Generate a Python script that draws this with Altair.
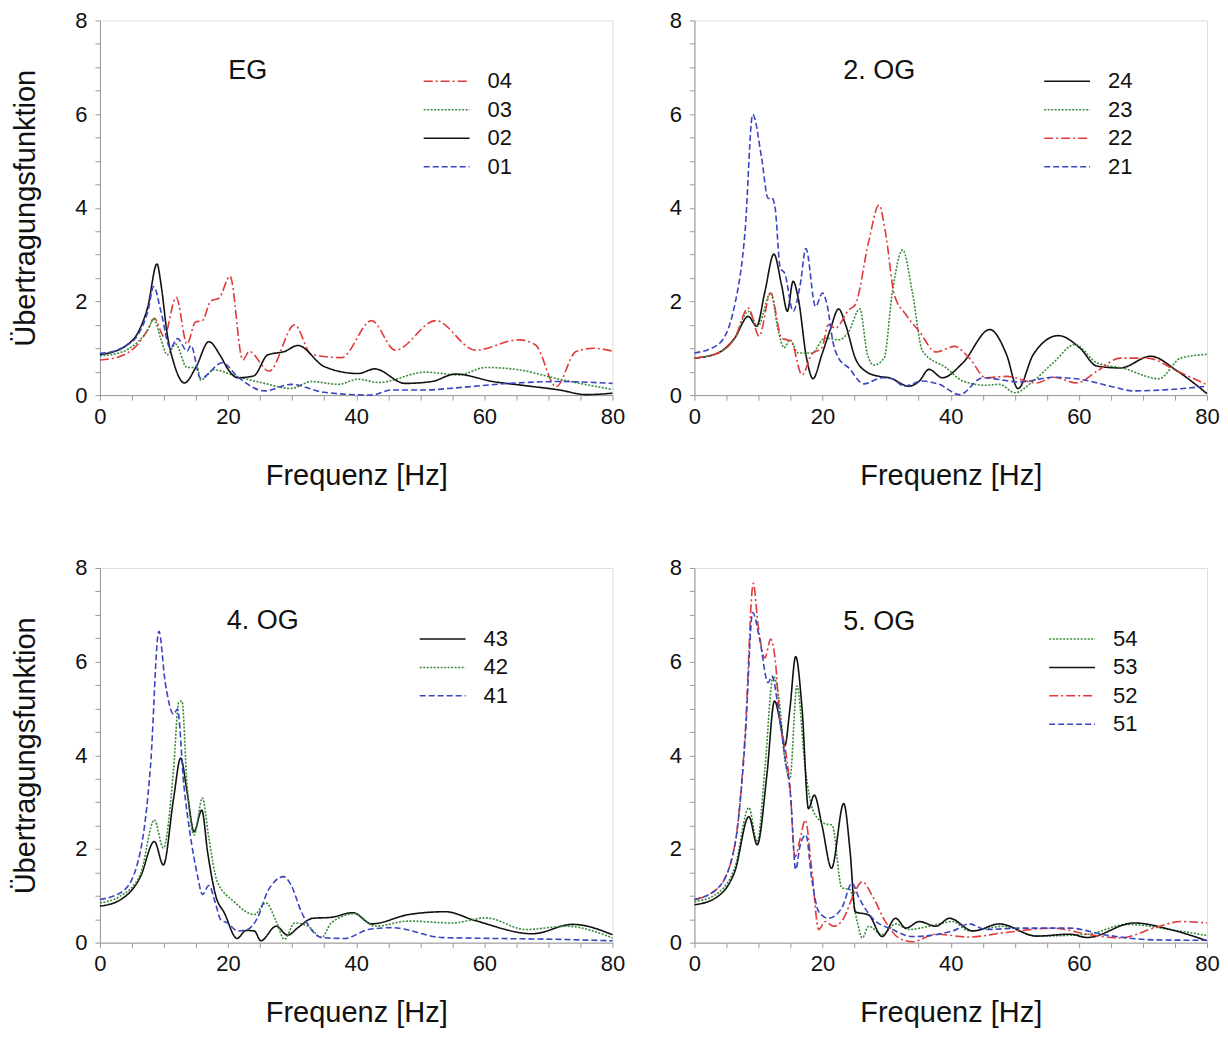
import altair as alt
import pandas as pd

FONT = "Liberation Sans"

# ---------------- EG ----------------
eg04_f = [0, 3, 6, 7.5, 8.5, 10, 11.9, 13.6, 14.9, 16, 17.3, 18.6, 20.3, 22.3, 23.3, 26.4, 30.4, 33, 37.7, 42.4, 46.1, 52.4, 58.6, 65.4, 68, 71.2, 74.3, 77, 80]
eg04_v = [0.75, 0.82, 1.1, 1.4, 1.64, 1.25, 2.09, 1.09, 1.56, 1.59, 2.01, 2.07, 2.54, 0.75, 0.93, 0.51, 1.5, 0.87, 0.8, 1.59, 0.96, 1.59, 0.96, 1.18, 1.07, 0.18, 0.93, 1.0, 0.94]
eg03_f = [0, 3, 6, 7.5, 8.4, 9.5, 10.5, 11.8, 13.6, 15.2, 15.7, 17.8, 21.5, 25.7, 29.8, 33, 37.2, 40.3, 43.5, 50.8, 56, 60.2, 65.4, 71.7, 80]
eg03_v = [0.84, 0.9, 1.15, 1.4, 1.63, 1.2, 0.86, 1.09, 0.59, 0.59, 0.32, 0.54, 0.39, 0.25, 0.14, 0.29, 0.23, 0.34, 0.27, 0.49, 0.43, 0.59, 0.54, 0.34, 0.12]
eg02_f = [0, 2, 4, 6, 7.5, 8.9, 9.6, 10.5, 11.5, 13.2, 15, 17, 18.8, 20, 21.5, 24, 26.2, 28.8, 30.9, 35, 40.3, 42.9, 47.6, 51.8, 55.5, 61.3, 66.5, 71.7, 75.9, 80]
eg02_v = [0.87, 0.92, 1.05, 1.35, 1.9, 2.8, 2.3, 1.3, 0.7, 0.26, 0.6, 1.14, 0.84, 0.55, 0.37, 0.41, 0.86, 0.93, 1.06, 0.61, 0.46, 0.56, 0.25, 0.29, 0.45, 0.29, 0.2, 0.11, 0.01, 0.04]
eg01_f = [0, 2, 4, 6, 7.5, 8.4, 9.5, 11, 12.1, 13.6, 14.2, 15.7, 19.1, 21.5, 25.7, 29.8, 35, 42.4, 45.5, 50.8, 56, 63.9, 71.7, 80]
eg01_v = [0.89, 0.93, 1.05, 1.3, 1.8, 2.32, 1.8, 1.0, 1.21, 0.94, 1.06, 0.36, 0.69, 0.39, 0.09, 0.23, 0.06, 0.0, 0.11, 0.11, 0.16, 0.25, 0.29, 0.25]

# ---------------- 2.OG ----------------
og2_24_f = [0, 3.7, 6.3, 8.4, 9.7, 11, 12.4, 13.6, 14.5, 15.4, 16.2, 17.5, 18.5, 19.9, 21.2, 22.5, 23.6, 25.1, 26.7, 28.8, 30.4, 33.5, 35.1, 36.6, 38.7, 41.9, 46.1, 48.7, 50.5, 52.9, 56.8, 60.2, 62.8, 66.5, 71.2, 75.4, 80]
og2_24_v = [0.79, 0.9, 1.22, 1.68, 1.47, 2.21, 3.01, 2.35, 1.79, 2.43, 2.07, 0.79, 0.35, 0.87, 1.4, 1.84, 1.5, 0.79, 0.51, 0.4, 0.37, 0.19, 0.3, 0.55, 0.37, 0.69, 1.4, 0.87, 0.14, 0.87, 1.27, 1.0, 0.62, 0.58, 0.83, 0.51, 0.03]
og2_23_f = [0, 3.7, 6.3, 8.4, 9.9, 11.9, 13.1, 14, 14.9, 16.2, 18.3, 20.4, 22.5, 24.1, 25.8, 27, 28, 29.6, 30.9, 32.5, 34, 35.6, 39.3, 41.9, 45.5, 47.6, 50, 52.9, 56, 59.4, 62.8, 67, 72.5, 75.9, 80]
og2_23_v = [0.79, 0.9, 1.22, 1.79, 1.47, 2.18, 1.36, 1.01, 1.18, 0.9, 0.9, 1.22, 1.18, 1.36, 1.84, 0.87, 0.64, 0.79, 2.21, 3.1, 2.21, 0.94, 0.58, 0.3, 0.21, 0.23, 0.05, 0.3, 0.69, 1.08, 0.69, 0.57, 0.35, 0.79, 0.87]
og2_22_f = [0, 3.7, 6.3, 8.4, 10.1, 11.9, 13.6, 15.1, 16.8, 18.3, 19.9, 20.9, 22, 24.1, 25.1, 27.2, 28.8, 29.8, 31.2, 33, 35.1, 37.7, 40.6, 42.9, 45.5, 48.7, 53.4, 56, 59.7, 62.8, 66.5, 70.7, 75.4, 80]
og2_22_v = [0.79, 0.9, 1.22, 1.86, 1.26, 2.18, 1.22, 1.15, 0.43, 0.87, 1.01, 1.5, 1.43, 1.82, 1.93, 3.28, 4.06, 3.49, 2.14, 1.72, 1.36, 0.92, 1.04, 0.79, 0.37, 0.4, 0.26, 0.38, 0.26, 0.51, 0.79, 0.79, 0.51, 0.22]
og2_21_f = [0, 3.7, 6.3, 7.9, 9.1, 10.5, 11.5, 12.1, 12.6, 13.4, 14.1, 15.4, 16.5, 17.4, 18.9, 20, 20.7, 21.7, 22.5, 24.1, 26.4, 29.3, 30.9, 32.7, 35.6, 38.2, 41.4, 45, 50.8, 56, 61.3, 64.9, 68.6, 74.3, 80]
og2_21_v = [0.9, 1.08, 1.93, 3.49, 5.99, 5.05, 4.2, 4.21, 3.99, 2.71, 2.6, 1.79, 2.35, 3.13, 1.89, 2.18, 1.93, 1.08, 0.79, 0.58, 0.24, 0.37, 0.35, 0.19, 0.3, 0.23, 0.01, 0.37, 0.28, 0.38, 0.31, 0.19, 0.09, 0.12, 0.19]

# ---------------- 4.OG ----------------
og4_43_f = [0, 3, 6.3, 8.5, 9.9, 11.5, 12.6, 13.6, 14.7, 15.9, 16.8, 18.1, 19.4, 21.4, 22.8, 24.1, 25.1, 27.5, 29.3, 30.9, 33.2, 36.1, 39.5, 42.4, 48.2, 53.9, 58.6, 67.5, 73.8, 80]
og4_43_v = [0.78, 0.9, 1.4, 2.16, 1.66, 3.08, 3.94, 3.22, 2.37, 2.83, 1.94, 0.99, 0.64, 0.09, 0.26, 0.25, 0.04, 0.35, 0.16, 0.32, 0.52, 0.54, 0.64, 0.4, 0.6, 0.66, 0.47, 0.19, 0.39, 0.17]
og4_42_f = [0, 3, 6.3, 8.5, 9.9, 11.5, 12.3, 12.8, 13.6, 14.7, 16, 17, 18.3, 20.9, 24.1, 25.9, 27.5, 28.8, 30.4, 32.5, 34.6, 36.1, 39.8, 42.9, 48.2, 55, 60.2, 66.5, 72.8, 80]
og4_42_v = [0.85, 0.98, 1.45, 2.62, 2.02, 3.71, 5.13, 5.16, 3.36, 2.3, 3.09, 2.23, 1.31, 0.88, 0.6, 0.85, 0.46, 0.07, 0.42, 0.35, 0.11, 0.42, 0.62, 0.35, 0.46, 0.42, 0.53, 0.28, 0.35, 0.1]
og4_41_f = [0, 3.7, 6.3, 7.9, 9.2, 10.2, 11.5, 12.1, 13.1, 14.1, 15.2, 16, 17, 18.1, 18.8, 19.9, 21.5, 23, 24.6, 26.2, 28.7, 29.8, 31.4, 34.6, 38.2, 41.9, 45.5, 53.4, 61.3, 71.7, 80]
og4_41_v = [0.92, 1.11, 1.94, 3.78, 6.65, 5.55, 4.88, 4.99, 3.36, 2.3, 1.45, 1.03, 1.22, 0.81, 0.5, 0.42, 0.25, 0.28, 0.53, 1.1, 1.41, 1.24, 0.67, 0.11, 0.09, 0.28, 0.32, 0.11, 0.09, 0.07, 0.04]

# ---------------- 5.OG ----------------
og5_54_f = [0, 3, 6.3, 8.5, 9.8, 11, 12.3, 13.2, 14.1, 14.9, 16, 17.3, 18.6, 20.4, 21.5, 23, 24.3, 25.4, 26.2, 27.2, 29.3, 31.4, 33.5, 36.6, 40.3, 42.9, 48.2, 53.4, 61.3, 67.5, 74.3, 80]
og5_54_v = [0.88, 1.0, 1.6, 2.88, 2.15, 3.71, 5.69, 5.2, 3.92, 3.5, 5.48, 3.71, 2.79, 2.54, 2.51, 1.17, 1.13, 0.45, 0.1, 0.35, 0.17, 0.4, 0.28, 0.35, 0.45, 0.25, 0.35, 0.14, 0.18, 0.39, 0.28, 0.15]
og5_53_f = [0, 3, 6.3, 8.5, 9.8, 11.3, 12.5, 13.4, 14.1, 14.9, 15.8, 16.8, 17.8, 18.7, 19.9, 21.4, 23.3, 24.3, 25.1, 27.2, 29.3, 31.4, 33, 35.1, 37.7, 39.8, 43.5, 47.6, 53.4, 58.6, 61.3, 68.6, 74.3, 80]
og5_53_v = [0.81, 0.93, 1.52, 2.69, 2.09, 3.57, 5.16, 4.7, 4.2, 4.99, 6.11, 4.99, 2.86, 3.15, 2.51, 1.59, 2.97, 1.94, 0.66, 0.59, 0.13, 0.52, 0.31, 0.45, 0.35, 0.52, 0.25, 0.4, 0.14, 0.18, 0.11, 0.42, 0.28, 0.04]
og5_52_f = [0, 3.7, 6.3, 7.9, 9.2, 9.9, 11, 11.9, 12.6, 13.4, 14.1, 14.9, 15.7, 16.5, 17.3, 18.3, 19.4, 20.4, 21.7, 23.3, 24.6, 26.2, 27.8, 29.8, 31.9, 34, 37.7, 42.9, 48.2, 56, 61.3, 66.5, 71.7, 75.9, 80]
og5_52_v = [0.92, 1.17, 2.08, 4.42, 7.67, 6.82, 6.08, 6.48, 6.05, 4.67, 4.2, 3.35, 1.83, 2.22, 2.62, 1.58, 0.28, 0.45, 0.35, 0.52, 0.95, 1.3, 0.99, 0.45, 0.1, 0.02, 0.18, 0.12, 0.21, 0.31, 0.18, 0.1, 0.31, 0.45, 0.42]
og5_51_f = [0, 3.7, 6.3, 7.9, 9.1, 10.2, 11.5, 12.1, 13.1, 14.1, 15, 15.8, 16.5, 17.4, 18.3, 19.4, 20.9, 23, 24.6, 25.7, 27.8, 30.9, 34, 40.3, 42.9, 45.5, 50.8, 58.6, 63.9, 71.7, 80]
og5_51_v = [0.92, 1.17, 2.08, 4.3, 7.05, 6.46, 5.55, 5.69, 4.99, 3.99, 3.14, 1.56, 2.08, 2.3, 1.37, 0.66, 0.52, 0.74, 1.27, 0.95, 0.52, 0.28, 0.13, 0.25, 0.4, 0.28, 0.31, 0.31, 0.17, 0.06, 0.05]

RED, GREEN, BLACK, BLUE = "#e23a3a", "#3a8a3a", "#111111", "#3a45c0"
D_RED, D_GREEN, D_BLACK, D_BLUE = [9, 3, 2, 3], [2, 1.5], [1, 0], [6, 3]

W, H = 513, 375


def make_df(series):
    rows = []
    for name, fs, vs in series:
        for f, v in zip(fs, vs):
            rows.append({"f": f, "v": v, "s": name})
    return pd.DataFrame(rows)


def panel(series, colors, dashes, label, label_xy, legend_xy, ytitle, xtitle_pad):
    df = make_df(series)
    order = [s[0] for s in series]
    leg = alt.Legend(
        title=None, orient="none", legendX=legend_xy[0], legendY=legend_xy[1],
        symbolType="M-1.64,0H1.64", symbolSize=784, symbolStrokeWidth=1.5,
        labelFontSize=22, labelFont=FONT, labelColor="#111", labelOffset=26,
        rowPadding=2.5, padding=0, fillColor=None, strokeColor=None,
    )
    xaxis = alt.Axis(
        values=list(range(0, 81, 5)),
        labelExpr="datum.value % 20 == 0 ? '' + datum.value : ''",
        title="Frequenz [Hz]", titleFontSize=29, titleFont=FONT, titleFontWeight="normal",
        titleColor="#111", titlePadding=xtitle_pad, labelFontSize=22, labelFont=FONT, labelColor="#111",
        labelPadding=6, tickSize=5, tickColor="#999", domainColor="#999",
        grid=False, labelFlush=False, labelOverlap=False,
    )
    yaxis = alt.Axis(
        values=[i * 0.5 for i in range(17)],
        labelExpr="datum.value % 2 == 0 ? '' + datum.value : ''",
        title="Übertragungsfunktion" if ytitle else None,
        titleFontSize=29, titleFont=FONT, titleFontWeight="normal", titleColor="#111",
        titlePadding=34, labelFontSize=22, labelFont=FONT, labelColor="#111",
        labelPadding=8, tickSize=5, tickColor="#999", domainColor="#999",
        grid=False, labelFlush=False, labelOverlap=False,
    )
    lines = alt.Chart(df).mark_line(interpolate="monotone", strokeWidth=1.6).encode(
        x=alt.X("f:Q", scale=alt.Scale(domain=[0, 80], nice=False, zero=False), axis=xaxis),
        y=alt.Y("v:Q", scale=alt.Scale(domain=[0, 8], nice=False), axis=yaxis),
        color=alt.Color("s:N", scale=alt.Scale(domain=order, range=colors), legend=leg, sort=order),
        strokeDash=alt.StrokeDash("s:N", scale=alt.Scale(domain=order, range=dashes), legend=leg, sort=order),
    )
    txt = alt.Chart(pd.DataFrame({"t": [label]})).mark_text(
        fontSize=27, font=FONT, color="#111", align="center", baseline="middle"
    ).encode(text="t:N", x=alt.value(label_xy[0]), y=alt.value(label_xy[1]))
    return alt.layer(lines, txt).properties(width=W, height=H)


p1 = panel(
    [("04", eg04_f, eg04_v), ("03", eg03_f, eg03_v), ("02", eg02_f, eg02_v), ("01", eg01_f, eg01_v)],
    [RED, GREEN, BLACK, BLUE], [D_RED, D_GREEN, D_BLACK, D_BLUE],
    "EG", (148, 51), (332, 46), True, 34)
p2 = panel(
    [("24", og2_24_f, og2_24_v), ("23", og2_23_f, og2_23_v), ("22", og2_22_f, og2_22_v), ("21", og2_21_f, og2_21_v)],
    [BLACK, GREEN, RED, BLUE], [D_BLACK, D_GREEN, D_RED, D_BLUE],
    "2. OG", (185, 51), (358, 46), False, 34)
p3 = panel(
    [("43", og4_43_f, og4_43_v), ("42", og4_42_f, og4_42_v), ("41", og4_41_f, og4_41_v)],
    [BLACK, GREEN, BLUE], [D_BLACK, D_GREEN, D_BLUE],
    "4. OG", (163, 53), (328, 56), True, 24)
p4 = panel(
    [("54", og5_54_f, og5_54_v), ("53", og5_53_f, og5_53_v), ("52", og5_52_f, og5_52_v), ("51", og5_51_f, og5_51_v)],
    [GREEN, BLACK, RED, BLUE], [D_GREEN, D_BLACK, D_RED, D_BLUE],
    "5. OG", (185, 54), (363, 56), False, 24)

top = alt.hconcat(p1, p2, spacing=43).resolve_scale(color="independent", strokeDash="independent").resolve_legend(color="independent", strokeDash="independent")
bottom = alt.hconcat(p3, p4, spacing=43).resolve_scale(color="independent", strokeDash="independent").resolve_legend(color="independent", strokeDash="independent")
chart = alt.vconcat(top, bottom, spacing=65).resolve_scale(
    color="independent", strokeDash="independent"
).resolve_legend(color="independent", strokeDash="independent").properties(
    padding={"left": 3, "top": 0, "right": 0, "bottom": 0}
).configure_view(stroke="#999", strokeWidth=1).configure(background="white")

chart.save("out.html", embed_options={"renderer": "svg", "actions": False})
